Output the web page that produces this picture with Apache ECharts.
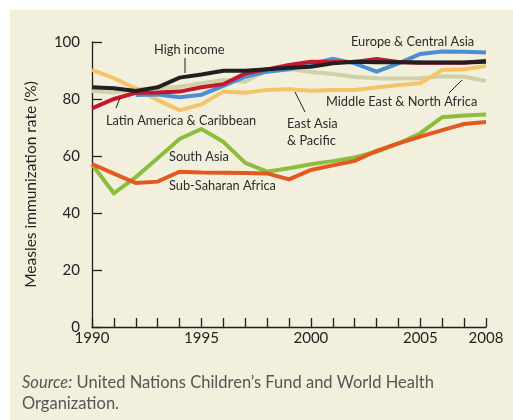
<!DOCTYPE html>
<html>
<head>
<meta charset="utf-8">
<script src="https://cdn.jsdelivr.net/npm/echarts@6/dist/echarts.min.js"></script>
<style>
    body { margin: 0; background: #ffffff; }
    #panel { position: absolute; left: 10px; top: 10px; width: 503px; height: 410px; background: #f2efdd; }
    #container_measles { position: absolute; left: 0; top: 0; width: 513px; height: 420px; }
</style>
</head>
<body>
<div id="panel"></div>
<div id="container_measles"></div>
<script>
// Measles immunization rate (%) by region, 1990-2008
var years = [1990, 1991, 1992, 1993, 1994, 1995, 1996, 1997, 1998, 1999,
             2000, 2001, 2002, 2003, 2004, 2005, 2006, 2007, 2008];
var yearLabels = [1990, 1995, 2000, 2005, 2008];

var highIncome = [84.1, 83.8, 82.8, 84.1, 87.5, 88.6, 89.9, 89.9, 90.4, 91.0, 91.3, 92.5, 93.1, 92.9, 92.9, 92.8, 92.8, 92.8, 93.1];
var europeCentralAsia = [null, null, 81.4, 81.6, 80.6, 81.5, 84.6, 87.8, 89.6, 90.4, 92.3, 94.1, 92.5, 89.6, 92.5, 95.8, 96.7, 96.6, 96.3];
var latinAmerica = [76.7, 80.0, 82.2, 82.3, 82.6, 84.1, 85.2, 89.0, 90.4, 91.9, 93.1, 93.0, 93.0, 94.0, 93.0, 92.7, 92.7, 92.7, 93.4];
var eastAsiaPacific = [90.2, 87.3, 83.7, 79.6, 76.1, 78.1, 82.6, 82.2, 83.2, 83.4, 82.9, 83.2, 83.2, 84.0, 84.9, 85.5, 90.2, 90.4, 91.6];
var middleEastNAfrica = [82.8, 82.3, 83.4, 83.7, 84.3, 85.5, 86.7, 86.1, 90.2, 90.5, 89.5, 88.8, 87.7, 87.3, 87.2, 87.3, 88.0, 87.8, 86.3];
var southAsia = [57.0, 46.9, 52.6, 59.2, 66.0, 69.5, 65.0, 57.6, 54.5, 55.7, 57.1, 58.2, 59.5, 61.5, 64.4, 68.0, 73.6, 74.2, 74.6];
var subSaharanAfrica = [57.2, 53.8, 50.5, 51.0, 54.5, 54.2, 54.1, 54.0, 53.9, 51.8, 55.1, 56.7, 58.3, 61.8, 64.4, 66.8, 69.1, 71.2, 71.9];

function pairs(vals) {
    var out = [];
    for (var i = 0; i < years.length; i++) {
        out.push([years[i], vals[i]]);
    }
    return out;
}

function line(name, vals, color) {
    return {
        name: name,
        type: 'line',
        data: pairs(vals),
        symbol: 'none',
        connectNulls: false,
        lineStyle: { color: color, width: 4, join: 'miter' },
        itemStyle: { color: color }
    };
}

var textFont = 'Lato, "Open Sans", sans-serif';

function label(txt, x, y) {
    return {
        type: 'text',
        x: x, y: y,
        style: { text: txt, fill: '#2b2b2b', font: '12.8px ' + textFont, textVerticalAlign: 'middle' },
        z: 100
    };
}

function leader(x1, y1, x2, y2) {
    return {
        type: 'line',
        shape: { x1: x1, y1: y1, x2: x2, y2: y2 },
        style: { stroke: '#231f20', lineWidth: 1 },
        z: 100
    };
}

var measles_chart = echarts.init(document.getElementById('container_measles'));

var option_measles = {
    backgroundColor: 'transparent',
    animation: false,
    grid: { left: 92, right: 27, top: 42, bottom: 93 },
    xAxis: {
        type: 'value',
        min: 1990,
        max: 2008,
        interval: 1,
        axisLine: { lineStyle: { color: '#231f20', width: 1.3 } },
        axisTick: { inside: true, length: 9, lineStyle: { color: '#231f20', width: 1.3 } },
        splitLine: { show: false },
        axisLabel: {
            color: '#231f20',
            fontSize: 15,
            fontFamily: textFont,
            margin: 4,
            formatter: function (v) {
                return yearLabels.indexOf(v) >= 0 ? String(v) : '';
            }
        }
    },
    yAxis: {
        type: 'value',
        min: 0,
        max: 100,
        interval: 20,
        name: 'Measles immunization rate (%)',
        nameLocation: 'middle',
        nameGap: 53,
        nameTextStyle: { color: '#231f20', fontSize: 15.5, fontFamily: textFont },
        axisLine: { show: true, lineStyle: { color: '#231f20', width: 1.3 } },
        axisTick: { show: true, inside: true, length: 10, lineStyle: { color: '#231f20', width: 1.3 } },
        splitLine: { show: false },
        axisLabel: { color: '#231f20', fontSize: 15, fontFamily: textFont, margin: 12 }
    },
    series: [
        line('Middle East & North Africa', middleEastNAfrica, '#cfd2a9'),
        line('East Asia & Pacific', eastAsiaPacific, '#f5c368'),
        line('Europe & Central Asia', europeCentralAsia, '#4a8fd3'),
        line('Latin America & Caribbean', latinAmerica, '#c3182f'),
        line('High income', highIncome, '#231f20'),
        line('South Asia', southAsia, '#8dbc3f'),
        line('Sub-Saharan Africa', subSaharanAfrica, '#e3591f')
    ],
    graphic: [
        label('High income', 154, 50),
        leader(185, 58, 185, 73),
        label('Europe & Central Asia', 351, 42),
        label('Latin America & Caribbean', 106, 121),
        leader(116, 108, 120, 98),
        label('East Asia', 287, 124),
        label('& Pacific', 287, 141),
        leader(295, 92, 305, 112),
        label('Middle East & North Africa', 326, 102),
        leader(462, 80, 449, 93),
        label('South Asia', 169, 157),
        label('Sub-Saharan Africa', 169, 186),
        {
            type: 'text',
            x: 22, y: 383,
            style: {
                text: '{i|Source:} United Nations Children\u2019s Fund and World Health',
                fill: '#555555',
                font: '16.5px ' + textFont,
                textVerticalAlign: 'middle',
                rich: { i: { fontStyle: 'italic', fontSize: 16.5, fontFamily: textFont, fill: '#555555' } }
            }
        },
        {
            type: 'text',
            x: 22, y: 404,
            style: { text: 'Organization.', fill: '#555555', font: '16.5px ' + textFont, textVerticalAlign: 'middle' }
        }
    ]
};

measles_chart.setOption(option_measles);
</script>
</body>
</html>
